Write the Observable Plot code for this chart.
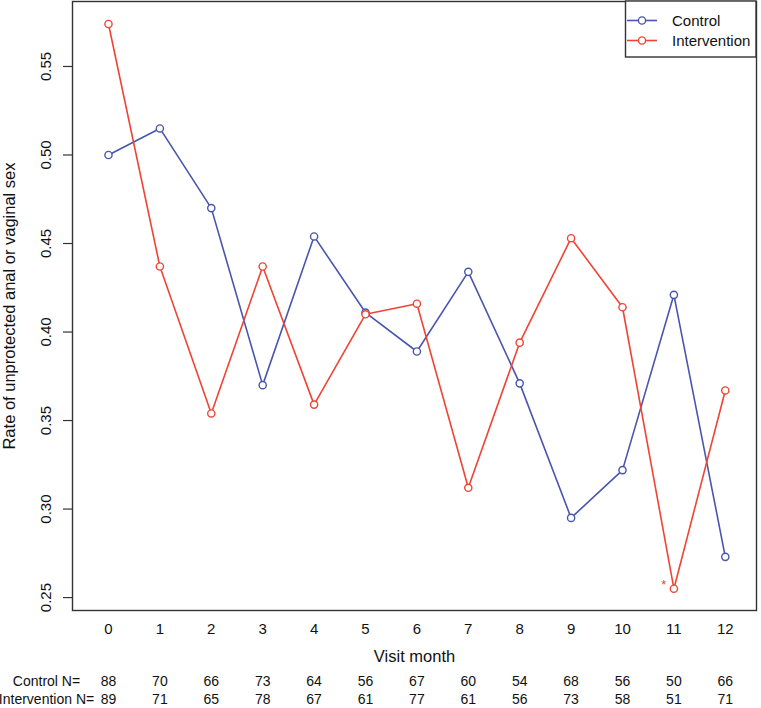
<!DOCTYPE html>
<html>
<head>
<meta charset="utf-8">
<script src="https://cdn.jsdelivr.net/npm/d3@7"></script>
<script src="https://cdn.jsdelivr.net/npm/@observablehq/plot@0.6"></script>
<style>
  html, body { margin: 0; padding: 0; background: #fff; }
  svg { display: block; }
</style>
</head>
<body>
<div id="chart"></div>
<script>
// ---- data ----
const months = [0, 1, 2, 3, 4, 5, 6, 7, 8, 9, 10, 11, 12];
const controlRate = [0.500, 0.515, 0.470, 0.370, 0.454, 0.411, 0.389, 0.434, 0.371, 0.295, 0.322, 0.421, 0.273];
const interventionRate = [0.574, 0.437, 0.354, 0.437, 0.359, 0.410, 0.416, 0.312, 0.394, 0.453, 0.414, 0.255, 0.367];
const controlN = [88, 70, 66, 73, 64, 56, 67, 60, 54, 68, 56, 50, 66];
const interventionN = [89, 71, 65, 78, 67, 61, 77, 61, 56, 73, 58, 51, 71];
const yTicks = [0.25, 0.30, 0.35, 0.40, 0.45, 0.50, 0.55];
const seriesNames = ["Control", "Intervention"];
const seriesColors = ["#4a56ad", "#ef4434"];
const rowLabels = ["Control N=", "Intervention N="];
const significant = [{month: 11, group: "Intervention"}];
const xTitle = "Visit month";
const yTitle = "Rate of unprotected anal or vaginal sex";

// ---- tidy table ----
const rows = months.flatMap((m, i) => [
  {month: m, group: "Control", rate: controlRate[i]},
  {month: m, group: "Intervention", rate: interventionRate[i]}
]);
const sigRows = significant.map(s => ({
  ...s,
  rate: (s.group === "Control" ? controlRate : interventionRate)[months.indexOf(s.month)]
}));

const font = "'Liberation Sans', Arial, Helvetica, sans-serif";

const plot = Plot.plot({
  width: 761,
  height: 708,
  marginLeft: 72,
  marginRight: 5,
  marginTop: 1,
  marginBottom: 98,
  style: {fontFamily: font, fontSize: "15px", color: "#000", background: "#fff", overflow: "visible"},
  x: {domain: [-0.70, 12.607]},
  y: {domain: [0.2427, 0.5867]},
  color: {domain: seriesNames, range: seriesColors},
  marks: [
    Plot.axisY({ticks: yTicks, tickSize: 9, tickFormat: () => "", label: null, stroke: "#333", strokeWidth: 1.2}),
    Plot.text(yTicks, {y: d => d, text: d => d3.format(".2f")(d), frameAnchor: "left", textAnchor: "middle", dx: -26, rotate: -90, fontSize: 15, fill: "#111"}),
    Plot.axisX({ticks: months, tickSize: 0, tickPadding: 13, tickFormat: d => String(d), label: null, fontSize: 15, fill: "#111"}),
    Plot.text([xTitle], {text: d => d, frameAnchor: "bottom", textAnchor: "middle", dy: 51, fontSize: 16.5, fill: "#111"}),
    Plot.text([yTitle], {text: d => d, frameAnchor: "left", textAnchor: "middle", dx: -63, rotate: -90, fontSize: 16.5, fill: "#111"}),
    Plot.text(months, {x: d => d, text: (d, i) => String(controlN[i]), frameAnchor: "bottom", textAnchor: "middle", dy: 75, fontSize: 14, fill: "#111"}),
    Plot.text(months, {x: d => d, text: (d, i) => String(interventionN[i]), frameAnchor: "bottom", textAnchor: "middle", dy: 93, fontSize: 14, fill: "#111"}),
    Plot.text([rowLabels[0]], {text: d => d, frameAnchor: "bottom-left", textAnchor: "middle", dx: -26, dy: 75, fontSize: 14, fill: "#111"}),
    Plot.text([rowLabels[1]], {text: d => d, frameAnchor: "bottom-left", textAnchor: "middle", dx: -26, dy: 93, fontSize: 14, fill: "#111"}),
    Plot.line(rows, {x: "month", y: "rate", z: "group", stroke: "group", strokeWidth: 1.6}),
    Plot.dot(rows, {x: "month", y: "rate", stroke: "group", fill: "white", r: 3.6, strokeWidth: 1.4}),
    Plot.text(sigRows, {x: "month", y: "rate", text: () => "*", fill: "group", textAnchor: "middle", dx: -10, dy: -4, fontSize: 13}),
    Plot.frame({stroke: "#333", strokeWidth: 1.4})
  ]
});

// ---- legend box (top-right, inside frame) ----
const svg = d3.select(plot);
const lg = svg.append("g").attr("font-family", font).attr("font-size", 15).attr("text-anchor", "start");
lg.append("rect")
  .attr("x", 625.5).attr("y", 1).attr("width", 130.5).attr("height", 56)
  .attr("fill", "white").attr("stroke", "#333").attr("stroke-width", 1.4);
seriesNames.forEach((name, i) => {
  const yy = 20.5 + 20 * i;
  lg.append("line").attr("x1", 627).attr("x2", 657).attr("y1", yy).attr("y2", yy)
    .attr("stroke", seriesColors[i]).attr("stroke-width", 1.6);
  lg.append("circle").attr("cx", 642).attr("cy", yy).attr("r", 3.6)
    .attr("fill", "white").attr("stroke", seriesColors[i]).attr("stroke-width", 1.4);
  lg.append("text").attr("x", 672).attr("y", yy).attr("dy", "0.35em")
    .attr("text-anchor", "start").attr("fill", "#111").text(name);
});

document.getElementById("chart").appendChild(plot);
</script>
</body>
</html>
